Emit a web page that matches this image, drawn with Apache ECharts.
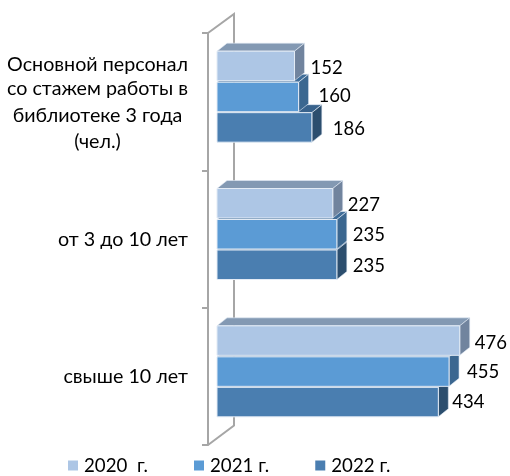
<!DOCTYPE html>
<html><head><meta charset="utf-8">
<style>html,body{margin:0;padding:0;background:#fff}#c{width:510px;height:476px}</style>
<script src="https://cdn.jsdelivr.net/npm/echarts@6/dist/echarts.min.js"></script>
</head><body><div id="c"></div>
<script>
const categories = ['Основной персонал\nсо стажем работы в\nбиблиотеке 3 года\n(чел.)', 'от 3 до 10 лет', 'свыше 10 лет'];
const seriesNames = ['2020  г.', '2021 г.', '2022 г.'];
const values2020 = [152, 227, 476];
const values2021 = [160, 235, 455];
const values2022 = [186, 235, 434];
const allValues = [values2020, values2021, values2022];

const FONT = 'Lato';
const FONT_SIZE = 18.5;
const CAT_SIZE = 19.7;
const LEGEND_SIZE = 18.7;
const fronts = ['#adc6e5', '#5b9bd5', '#4a7eb0'];
const tops = ['#8399b3', '#3f6d99', '#38628c'];
const sides = ['#71849e', '#3b6790', '#2c4e6e'];
const DX = 10, DY = 8, BAR_H = 29.5;
const ROW = [-50.5, -19.5, 11];
const labelGap = [[6, 10, 11], [5, 6, 6], [5, 8, 4]];
const labelDy = [[2, -1, 2], [2, 1, 1], [2, 0, 0]];

function bar3d(s) {
  return function (params, api) {
    const cat = api.value(1);
    const p0 = api.coord([0, cat]);
    const p1 = api.coord([api.value(0), cat]);
    const y = p0[1] + ROW[s], x0 = p0[0], x1 = p1[0];
    const line = { stroke: '#e3ebf5', lineWidth: 1 };
    return {
      type: 'group',
      children: [
        { type: 'polygon', shape: { points: [[x0, y], [x0 + DX, y - DY], [x1 + DX, y - DY], [x1, y]] },
          style: { fill: tops[s], stroke: '#e3ebf5', lineWidth: 0.6 } },
        { type: 'polygon', shape: { points: [[x1, y], [x1 + DX, y - DY], [x1 + DX, y + BAR_H - DY], [x1, y + BAR_H]] },
          style: { fill: sides[s], stroke: '#e3ebf5', lineWidth: 0.6 } },
        { type: 'rect', shape: { x: x0, y: y, width: x1 - x0, height: BAR_H },
          style: Object.assign({ fill: fronts[s] }, line) },
        { type: 'text', style: { x: x1 + DX + labelGap[cat][s], y: y + BAR_H / 2 + labelDy[cat][s],
            text: String(api.value(0)), fill: '#000', font: FONT_SIZE + 'px "' + FONT + '"', textAlign: 'left', textVerticalAlign: 'middle' } }
      ]
    };
  };
}

function wall(params, api) {
  const band = api.size([0, 1])[1];
  const c0 = api.coord([0, 0]);
  const c2 = api.coord([0, categories.length - 1]);
  const fx = c0[0] - 9, bx = fx + 26;
  const ft = c0[1] - band / 2, fb = c2[1] + band / 2;
  const st = { stroke: '#a6a6a6', lineWidth: 2, fill: null };
  return { type: 'polyline', shape: { points: [[fx, ft], [bx, ft - 19], [bx, fb - 19.5], [fx, fb]] }, style: st };
}

const series = [{ type: 'custom', name: 'wall', silent: true, z: 1, renderItem: wall, data: [[0, 0]], encode: { x: 0, y: 1 } }];
seriesNames.forEach((name, s) => {
  series.push({
    type: 'custom', name, z: 5 - s, renderItem: bar3d(s), clip: false,
    itemStyle: { color: fronts[s] }, encode: { x: 0, y: 1 },
    data: allValues[s].map((v, i) => [v, i])
  });
});

const chart = echarts.init(document.getElementById('c'), null, { renderer: 'canvas' });
const catRich = { width: 181, align: 'center', fontFamily: FONT, fontSize: CAT_SIZE, lineHeight: 26.5, color: '#000' };
chart.setOption({
  animation: false,
  backgroundColor: '#fff',
  legend: {
    data: seriesNames, left: 68, top: 456, padding: 0, itemWidth: 10, itemHeight: 10, itemGap: 46, itemStyle: { borderWidth: 0 }, icon: 'rect',
    textStyle: { color: '#000', fontFamily: FONT, fontSize: LEGEND_SIZE, padding: [4, 0, 0, 1] }
  },
  grid: { left: 217, right: 38, top: 33, bottom: 31 },
  xAxis: { type: 'value', min: 0, max: 500, show: false },
  yAxis: {
    type: 'category', inverse: true, data: categories, offset: 9,
    axisLine: { show: true, onZero: false, lineStyle: { color: '#a6a6a6', width: 2 } },
    axisTick: { show: true, length: 6, lineStyle: { color: '#a6a6a6', width: 2 } },
    axisLabel: {
      margin: 20, color: '#000', fontFamily: FONT, fontSize: CAT_SIZE, lineHeight: 26.5, padding: [1, 0, 0, 0],
      formatter: (v) => v.includes('\n') ? v.split('\n').map((l, i) => (i ? '{c|' : '{d|') + l + '}').join('\n') : v,
      rich: { c: catRich, d: Object.assign({}, catRich, { padding: [4, 0, 0, 0] }) }
    }
  },
  series
});
</script></body></html>
